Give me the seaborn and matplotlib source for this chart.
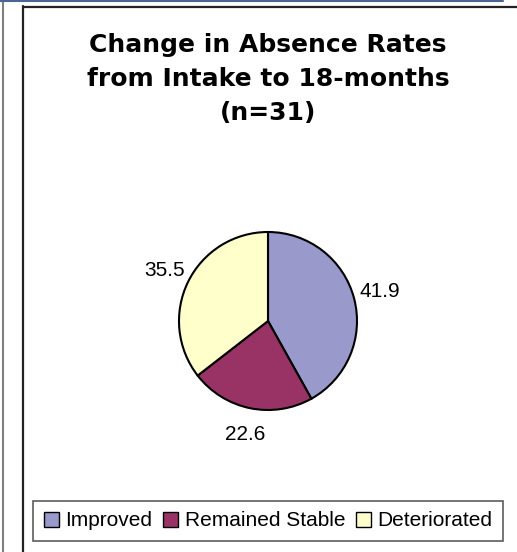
import matplotlib
matplotlib.use('Agg')
import matplotlib.pyplot as plt
import seaborn as sns
from matplotlib.lines import Line2D
from matplotlib.patches import Patch
import numpy as np

# Chart data
categories = ['Improved', 'Remained Stable', 'Deteriorated']
values = [41.9, 22.6, 35.5]
colors = ['#9999cc', '#993366', '#ffffcc']
title_lines = ['Change in Absence Rates', 'from Intake to 18-months', '(n=31)']

W, H = 517, 552


def make_chart():
    sns.set_theme(style='white')
    plt.rcParams['font.family'] = ['Liberation Sans', 'DejaVu Sans']
    plt.rcParams['text.color'] = 'black'

    fig = plt.figure(figsize=(W / 100, H / 100), dpi=100)
    fig.patch.set_facecolor('white')

    # page frame lines
    fig.add_artist(Line2D([2.5 / W, 2.5 / W], [0, 1], color='#808080', lw=1.5))
    fig.add_artist(Line2D([0, 503 / W], [1 - 0.8 / H, 1 - 0.8 / H], color='#4a6494', lw=1.5))
    fig.add_artist(Line2D([22.5 / W, 22.5 / W], [0, 1 - 6 / H], color='#222222', lw=1.6))
    fig.add_artist(Line2D([22.5 / W, 1], [1 - 6.5 / H, 1 - 6.5 / H], color='#222222', lw=1.6))

    # pie axes
    cx, cy, r = 268, 321, 89
    ax = fig.add_axes([(cx - r) / W, (H - cy - r) / H, 2 * r / W, 2 * r / H])
    wedges, texts = ax.pie(values, colors=colors, startangle=90, counterclock=False,
                           labels=[f'{v:.1f}' for v in values], labeldistance=1.3,
                           wedgeprops=dict(edgecolor='black', linewidth=1.5),
                           textprops=dict(fontsize=15, color='black'))
    ax.set_xlim(-1, 1)
    ax.set_ylim(-1, 1)
    ax.set_aspect('equal')
    ax.axis('off')
    for t in texts:
        t.set_ha('center')
        t.set_va('center')

    # title, one line per text at the reference baselines
    for i, line in enumerate(title_lines):
        fig.text(cx / W, 1 - (52 + 34 * i) / H, line, ha='center', va='baseline',
                 fontsize=18, fontweight='bold', family='DejaVu Sans', color='black')

    handles = [Patch(facecolor=c, edgecolor='black', lw=1) for c in colors]
    leg = fig.legend(handles, categories, loc='center', ncol=3,
                     bbox_to_anchor=(268 / W, 1 - 521 / H),
                     fontsize=15, frameon=True, fancybox=False,
                     handlelength=0.75, handleheight=0.75, handletextpad=0.3,
                     columnspacing=0.5, borderpad=0.5, borderaxespad=0)
    leg.get_frame().set_edgecolor('#333333')
    leg.get_frame().set_linewidth(1.2)
    for t in leg.get_texts():
        t.set_color('black')

    fig.savefig('out.png', dpi=100)
    plt.close(fig)


if __name__ == '__main__':
    make_chart()
